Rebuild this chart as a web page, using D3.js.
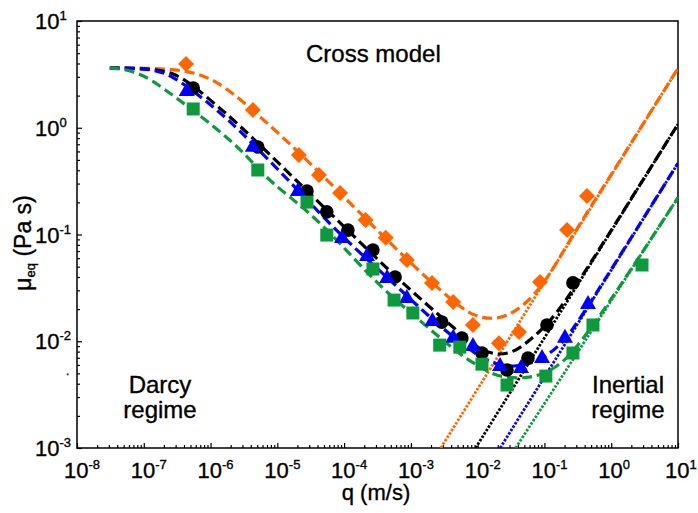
<!DOCTYPE html>
<html><head><meta charset="utf-8">
<script src="https://cdn.jsdelivr.net/npm/d3@7"></script>
<style>body{margin:0;background:#fff}svg text{font-family:"Liberation Sans",Arial,sans-serif;fill:#000;stroke:#000;stroke-width:0.35px}</style>
</head><body>
<svg id="c" width="698" height="513"></svg>
<script>
// ---------- data ----------
const xTickVals = [1e-8,1e-7,1e-6,1e-5,1e-4,1e-3,1e-2,1e-1,1,10];
const xTickExp  = ["-8","-7","-6","-5","-4","-3","-2","-1","0","1"];
const yTickVals = [1e-3,1e-2,1e-1,1,10];
const yTickExp  = ["-3","-2","-1","0","1"];

// measured points (q in m/s, mu in Pa s)
const qOrange  = [4.3e-7,4.3e-6,2.1e-5,4.2e-5,8.7e-5,2.1e-4,4.2e-4,8.7e-4,2.07e-3,4.3e-3,8.5e-3,0.0208,0.0416,0.0857,0.218,0.434];
const muOrange = [3.95,1.47,0.556,0.36,0.245,0.137,0.093,0.0577,0.0352,0.0233,0.0142,0.0096,0.0122,0.0359,0.110,0.23];
const qBlack   = [5.5e-7,5.1e-6,2.78e-5,5.5e-5,1.14e-4,2.7e-4,5.8e-4,2.9e-3,5.8e-3,0.0116,0.0275,0.0566,0.109,0.267];
const muBlack  = [2.36,0.66,0.255,0.163,0.110,0.0716,0.040,0.0151,0.0107,0.00776,0.00538,0.00697,0.0142,0.0352];
const qBlue    = [4.4e-7,4.3e-6,2.04e-5,9.3e-5,2.2e-4,4.4e-4,8.7e-4,2.1e-3,4.3e-3,8.5e-3,0.0216,0.0446,0.092,0.203,0.449];
const muBlue   = [2.26,0.68,0.261,0.0948,0.0643,0.040,0.026,0.0158,0.011,0.0092,0.0060,0.00574,0.00711,0.011,0.0228];
const qGreen   = [5.5e-7,5.1e-6,2.78e-5,5.5e-5,2.7e-4,5.6e-4,1.07e-3,2.7e-3,5.4e-3,0.0116,0.0275,0.105,0.267,0.533,2.89];
const muGreen  = [1.50,0.402,0.201,0.0988,0.0475,0.0243,0.0184,0.0092,0.0088,0.0061,0.00389,0.00472,0.00776,0.0142,0.0518];

// Cross model fit curves
const fitQOrange  = [3.1e-8,1.24e-7,4.4e-7,1.25e-6,4.3e-6,2.18e-5,8.7e-5,8.7e-4,4.3e-3,8.5e-3,0.0153,0.0275,0.0548,0.109,0.3,1,10];
const fitMuOrange = [3.63,3.63,3.47,2.80,1.47,0.58,0.245,0.0577,0.0233,0.0173,0.0161,0.0169,0.0228,0.0375,0.113,0.362,3.6];
const fitQBlack   = [3.1e-8,1.24e-7,2.94e-7,5.85e-7,1.48e-6,3.64e-6,2.78e-5,1.14e-4,5.8e-4,5.8e-3,0.0108,0.0216,0.0402,0.065,0.102,0.218,1,10];
const fitMuBlack  = [3.63,3.60,3.26,2.41,1.47,0.893,0.255,0.110,0.040,0.01146,0.00828,0.00727,0.00828,0.0107,0.0136,0.0243,0.109,1.08];
const fitQBlue    = [3.1e-8,1.24e-7,2.65e-7,8.26e-7,2.32e-6,2.04e-5,9.3e-5,4.4e-4,2.1e-3,5.43e-3,0.0108,0.0195,0.0362,0.065,0.102,0.171,0.267,1,10];
const fitMuBlue   = [3.63,3.60,3.12,1.82,1.06,0.261,0.0948,0.040,0.0158,0.00984,0.00711,0.0060,0.00574,0.00626,0.00711,0.00922,0.0127,0.047,0.465];
const fitQGreen   = [3.1e-8,6.67e-8,1.33e-7,2.94e-7,7.45e-7,1.82e-6,3.64e-6,7.76e-6,2.78e-5,8.7e-5,3.44e-4,1.52e-3,5.43e-3,9.77e-3,0.0169,0.0305,0.0547,0.0857,0.154,0.267,1,10];
const fitMuGreen  = [3.63,3.47,2.80,1.94,1.26,0.80,0.532,0.310,0.170,0.0832,0.0322,0.0148,0.00743,0.0060,0.00483,0.00453,0.00453,0.00483,0.00574,0.00776,0.0242,0.222];

// inertial asymptotes (end points)
const lineQOrange = [2.8e-3,10],  lineMuOrange = [1e-3,3.6];
const lineQBlack  = [9.3e-3,10],  lineMuBlack  = [1e-3,1.08];
const lineQBlue   = [0.0217,10],  lineMuBlue   = [1e-3,0.465];
const lineQGreen  = [0.037,10],   lineMuGreen  = [1e-3,0.222];

const colors = {orange:"#FF6600", black:"#000000", blue:"#0000FF", green:"#0E9A3C"};

// ---------- chart ----------
const svg = d3.select("#c");
const L=77, R=678, T=21, B=448;
const x = d3.scaleLog().domain([1e-8,10]).range([L,R]);
const y = d3.scaleLog().domain([1e-3,10]).range([B,T]);

svg.append("defs").append("clipPath").attr("id","clip")
  .append("rect").attr("x",L).attr("y",T).attr("width",R-L).attr("height",B-T);

// minor ticks
const minorX=[], minorY=[];
for(let e=-8;e<1;e++) for(let k=2;k<10;k++) minorX.push(k*Math.pow(10,e));
for(let e=-3;e<1;e++) for(let k=2;k<10;k++) minorY.push(k*Math.pow(10,e));

const axStyle = g => { g.selectAll("path").remove(); g.selectAll("line").attr("stroke","#000").attr("stroke-width",1.2); g.selectAll("text").remove(); };
svg.append("g").attr("transform",`translate(0,${B})`).call(d3.axisBottom(x).tickValues(xTickVals).tickSize(-5).tickFormat("")).call(axStyle);
svg.append("g").attr("transform",`translate(0,${B})`).call(d3.axisBottom(x).tickValues(minorX).tickSize(-3).tickFormat("")).call(axStyle);
svg.append("g").attr("transform",`translate(${L},0)`).call(d3.axisLeft(y).tickValues(yTickVals).tickSize(-5).tickFormat("")).call(axStyle);
svg.append("g").attr("transform",`translate(${L},0)`).call(d3.axisLeft(y).tickValues(minorY).tickSize(-3).tickFormat("")).call(axStyle);

// frame
svg.append("rect").attr("x",L).attr("y",T).attr("width",R-L).attr("height",B-T)
  .attr("fill","none").attr("stroke","#000").attr("stroke-width",1.5);

// tick labels
xTickVals.forEach((v,i)=>{
  const t = svg.append("text").attr("x",x(v)-13).attr("y",478).attr("font-size",22);
  t.append("tspan").text("10");
  t.append("tspan").attr("font-size",13).attr("dy",-9).text(xTickExp[i]);
});
yTickVals.forEach((v,i)=>{
  const t = svg.append("text").attr("x",35).attr("y",y(v)+8).attr("font-size",22);
  t.append("tspan").text("10");
  t.append("tspan").attr("font-size",13).attr("dy",-9).text(yTickExp[i]);
});

// axis titles
svg.append("text").attr("x",376).attr("y",500).attr("text-anchor","middle").attr("font-size",22).text("q (m/s)");
const yt = svg.append("text").attr("transform","translate(31,243) rotate(-90)").attr("text-anchor","middle").attr("font-size",23);
yt.append("tspan").text("\u03bc");
yt.append("tspan").attr("font-size",13).attr("dy",4).text("eq");
yt.append("tspan").attr("dy",-4).text(" (Pa s)");

// annotations
svg.append("text").attr("x",306).attr("y",62).attr("font-size",24).text("Cross model");
svg.append("text").attr("x",160).attr("y",393).attr("text-anchor","middle").attr("font-size",24).text("Darcy");
svg.append("text").attr("x",160).attr("y",418).attr("text-anchor","middle").attr("font-size",24).text("regime");
svg.append("text").attr("x",628).attr("y",393).attr("text-anchor","middle").attr("font-size",24).text("Inertial");
svg.append("text").attr("x",628).attr("y",418).attr("text-anchor","middle").attr("font-size",24).text("regime");
svg.append("text").attr("x",66).attr("y",375).attr("font-size",12).text(".");

const plot = svg.append("g").attr("clip-path","url(#clip)");
const line = d3.line().x(d=>x(d[0])).y(d=>y(d[1])).curve(d3.curveBasis);
const zip = (a,b)=>a.map((v,i)=>[v,b[i]]);

const series = [
  {c:colors.orange, q:qOrange, mu:muOrange, fq:fitQOrange, fm:fitMuOrange, lq:lineQOrange, lm:lineMuOrange, shape:"diamond"},
  {c:colors.black,  q:qBlack,  mu:muBlack,  fq:fitQBlack,  fm:fitMuBlack,  lq:lineQBlack,  lm:lineMuBlack,  shape:"circle"},
  {c:colors.blue,   q:qBlue,   mu:muBlue,   fq:fitQBlue,   fm:fitMuBlue,   lq:lineQBlue,   lm:lineMuBlue,   shape:"triangle"},
  {c:colors.green,  q:qGreen,  mu:muGreen,  fq:fitQGreen,  fm:fitMuGreen,  lq:lineQGreen,  lm:lineMuGreen,  shape:"square"}
];

// inertial dotted lines
series.forEach(s=>{
  plot.append("path").attr("d", d3.line().x(d=>x(d[0])).y(d=>y(d[1]))(zip(s.lq,s.lm)))
    .attr("fill","none").attr("stroke",s.c).attr("stroke-width",2.8).attr("stroke-dasharray","2.5,1.5");
});
// Cross model dashed curves
series.forEach(s=>{
  plot.append("path").attr("d", line(zip(s.fq,s.fm)))
    .attr("fill","none").attr("stroke",s.c).attr("stroke-width",3.2).attr("stroke-dasharray","10,5");
});

const shapes = {
  diamond: "M0,-8L8,0L0,8L-8,0Z",
  triangle: "M0,-8L8,6L-8,6Z",
  square: "M-6.5,-6.5H6.5V6.5H-6.5Z"
};
series.forEach(s=>{
  const g = svg.append("g");
  zip(s.q,s.mu).forEach(d=>{
    if(s.shape==="circle"){
      g.append("circle").attr("cx",x(d[0])).attr("cy",y(d[1])).attr("r",6.8).attr("fill",s.c);
    } else {
      g.append("path").attr("d",shapes[s.shape]).attr("transform",`translate(${x(d[0])},${y(d[1])})`).attr("fill",s.c);
    }
  });
});
</script>
</body></html>
